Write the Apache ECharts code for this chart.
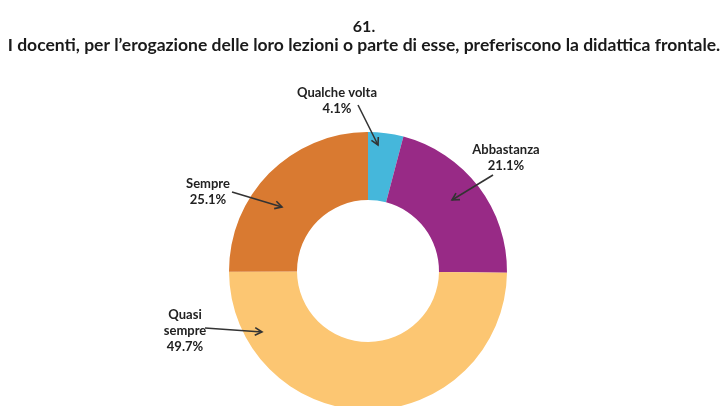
<!DOCTYPE html>
<html>
<head>
<meta charset="utf-8">
<script src="https://cdn.jsdelivr.net/npm/echarts@6/dist/echarts.min.js"></script>
<style>html,body{margin:0;padding:0;background:#fff}#c{width:728px;height:406px}</style>
</head>
<body>
<div id="c"></div>
<script>
// Data
var categories = ['Qualche volta', 'Abbastanza', 'Quasi sempre', 'Sempre'];
var values = [4.1, 21.1, 49.7, 25.1];
var titleNumber = '61.';
var titleText = 'I docenti, per l\u2019erogazione delle loro lezioni o parte di esse, preferiscono la didattica frontale.';

// Styles / annotation layout
var colors = ['#45b7db', '#982a86', '#fcc672', '#d97a31'];
var labelPos = [[337, 101], [506, 158], [185, 331], [208, 192]];
var arrows = [
  [[358, 105], [378, 145]],
  [[493, 175], [452, 200]],
  [[205, 328], [262, 332]],
  [[232, 192], [282, 207]]
];

function arrowGraphic(a) {
  var s = a[0], e = a[1];
  var ang = Math.atan2(e[1] - s[1], e[0] - s[0]);
  var L = 8, w = 0.5;
  var p1 = [e[0] - L * Math.cos(ang - w), e[1] - L * Math.sin(ang - w)];
  var p2 = [e[0] - L * Math.cos(ang + w), e[1] - L * Math.sin(ang + w)];
  return [
    { type: 'line', shape: { x1: s[0], y1: s[1], x2: e[0], y2: e[1] }, style: { stroke: '#333', lineWidth: 1.6 }, z: 100 },
    { type: 'polyline', shape: { points: [p1, e, p2] }, style: { stroke: '#333', lineWidth: 1.6, fill: null }, z: 100 }
  ];
}
var graphics = [];
arrows.forEach(function (a) { graphics = graphics.concat(arrowGraphic(a)); });

var chart = echarts.init(document.getElementById('c'), null, { renderer: 'canvas' });
chart.setOption({
  animation: false,
  title: [
    { text: titleNumber, left: 'center', top: 14, textStyle: { fontFamily: 'Lato', fontWeight: 'bold', fontSize: 16, color: '#1a1a1a' } },
    { text: titleText, left: 'center', top: 31, textStyle: { fontFamily: 'Lato', fontWeight: 'bold', fontSize: 17.5, color: '#1a1a1a' } }
  ],
  graphic: graphics,
  series: [{
    type: 'pie',
    center: [368, 271],
    radius: [71, 139],
    startAngle: 90,
    clockwise: true,
    percentPrecision: 1,
    avoidLabelOverlap: false,
    data: categories.map(function (c, i) { return { name: c, value: values[i], itemStyle: { color: colors[i] } }; }),
    label: {
      show: true,
      position: 'outside',
      formatter: function (p) { return p.name.replace('Quasi ', 'Quasi\n') + '\n' + p.percent.toFixed(1) + '%'; },
      fontFamily: 'Lato',
      fontWeight: 'bold',
      fontSize: 13,
      lineHeight: 16,
      color: '#222',
      align: 'center'
    },
    labelLine: { show: false },
    labelLayout: function (params) {
      var p = labelPos[params.dataIndex];
      return { x: p[0], y: p[1], align: 'center', verticalAlign: 'middle' };
    },
    emphasis: { disabled: true }
  }]
});
</script>
</body>
</html>
